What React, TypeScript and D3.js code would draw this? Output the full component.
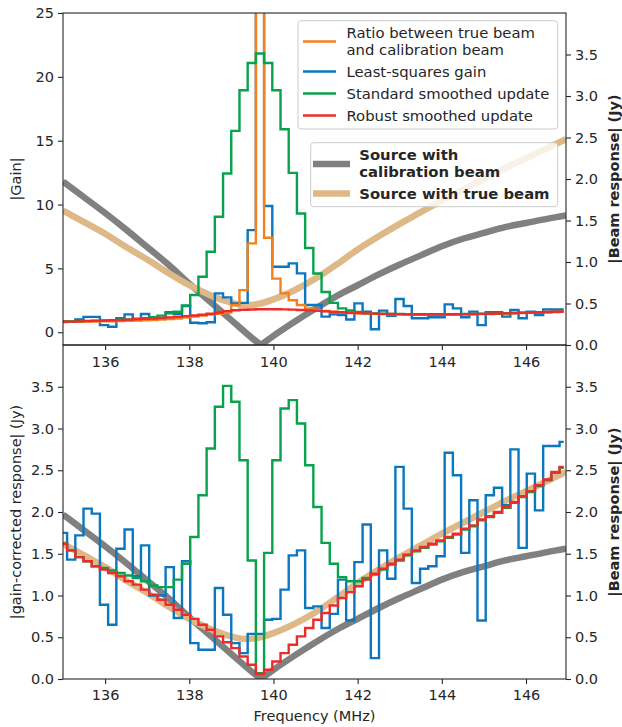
import React, { Component } from 'react';
import * as d3 from 'd3';

// channel centres in MHz (195 kHz channels)
const channelFreqs = d3.range(62).map(i => 135 + i * 0.195);

// top panel, |Gain|
const topRatio = [
  0.80, 0.81, 0.82, 0.83, 0.84, 0.85, 0.86, 0.87, 0.89, 0.91,
  0.93, 0.96, 0.99, 1.03, 1.08, 1.14, 1.22, 1.30, 1.38, 1.45,
  1.55, 2.13, 3.30, 6.96, 60, 7.40, 4.20, 3.05, 2.50, 2.13,
  1.87, 1.74, 1.66, 1.60, 1.54, 1.51, 1.48, 1.46, 1.44, 1.42,
  1.41, 1.40, 1.39, 1.38, 1.38, 1.38, 1.38, 1.38, 1.39, 1.40,
  1.41, 1.42, 1.43, 1.45, 1.46, 1.48, 1.50, 1.52, 1.54, 1.56,
  1.58, 1.60];

const topLsq = [
  0.82, 0.82, 1.00, 1.20, 1.20, 0.56, 0.43, 1.09, 1.40, 0.96,
  1.43, 1.09, 1.09, 1.56, 1.45, 2.05, 0.74, 0.70, 0.78, 3.04,
  2.73, 2.26, 2.30, 8.00, 60, 9.88, 5.13, 5.13, 5.39, 4.61,
  2.13, 2.13, 1.22, 1.40, 1.35, 1.00, 2.26, 1.61, 0.23, 1.69,
  1.29, 2.60, 2.05, 1.09, 1.09, 1.17, 1.17, 2.18, 1.87, 1.17,
  1.61, 0.56, 1.56, 1.56, 1.22, 1.74, 1.09, 1.61, 1.35, 1.79,
  1.79, 1.79];

const topStandard = [
  0.84, 0.85, 0.87, 0.89, 0.91, 0.93, 0.95, 0.98, 1.01, 1.05,
  1.10, 1.17, 1.30, 1.48, 1.60, 2.10, 2.91, 4.34, 6.30, 9.04,
  12.43, 15.77, 18.95, 21.09, 21.83, 21.09, 18.95, 15.90, 12.48, 9.30,
  6.60, 4.60, 3.15, 2.30, 1.87, 1.70, 1.58, 1.50, 1.47, 1.45,
  1.44, 1.43, 1.42, 1.41, 1.41, 1.41, 1.41, 1.41, 1.42, 1.43,
  1.44, 1.45, 1.46, 1.48, 1.49, 1.51, 1.53, 1.55, 1.57, 1.59,
  1.61, 1.63];

const topRobust = [
  0.82, 0.83, 0.85, 0.87, 0.89, 0.91, 0.93, 0.96, 0.99, 1.02,
  1.05, 1.08, 1.12, 1.16, 1.21, 1.26, 1.31, 1.37, 1.45, 1.55,
  1.65, 1.72, 1.76, 1.78, 1.80, 1.80, 1.80, 1.79, 1.77, 1.74,
  1.71, 1.67, 1.63, 1.59, 1.56, 1.53, 1.50, 1.48, 1.46, 1.44,
  1.43, 1.42, 1.41, 1.40, 1.40, 1.40, 1.40, 1.40, 1.41, 1.42,
  1.43, 1.44, 1.45, 1.47, 1.48, 1.50, 1.52, 1.54, 1.56, 1.58,
  1.60, 1.62];

// bottom panel, |gain-corrected response| (Jy)
const bottomLsq = [
  1.75, 1.43, 1.72, 2.04, 1.98, 0.89, 0.65, 1.56, 1.79, 1.23,
  1.60, 1.00, 1.00, 1.34, 0.73, 1.41, 0.43, 0.35, 0.35, 1.09,
  0.77, 0.43, 0.31, 0.54, 0.54, 0.71, 0.72, 1.07, 1.48, 1.54,
  0.85, 0.87, 0.61, 0.78, 1.19, 0.70, 1.40, 1.85, 0.25, 1.54,
  1.20, 2.54, 2.04, 1.15, 1.32, 1.35, 1.47, 2.71, 2.44, 1.51,
  2.14, 0.70, 2.20, 2.29, 2.08, 2.75, 1.57, 2.46, 2.02, 2.79,
  2.79, 2.84];

const bottomStandard = [
  1.62, 1.54, 1.46, 1.41, 1.35, 1.33, 1.30, 1.27, 1.24, 1.21,
  1.17, 1.12, 1.10, 1.10, 1.19, 1.38, 1.70, 2.20, 2.76, 3.26,
  3.51, 3.32, 2.62, 1.42, 0.07, 1.51, 2.62, 3.24, 3.34, 3.06,
  2.56, 2.06, 1.63, 1.38, 1.22, 1.17, 1.17, 1.21, 1.25, 1.31,
  1.37, 1.42, 1.48, 1.53, 1.57, 1.61, 1.65, 1.69, 1.73, 1.79,
  1.83, 1.90, 1.94, 1.99, 2.05, 2.11, 2.18, 2.24, 2.31, 2.38,
  2.47, 2.53];

const bottomRobust = [
  1.62, 1.54, 1.46, 1.41, 1.35, 1.31, 1.27, 1.23, 1.17, 1.13,
  1.07, 1.01, 0.95, 0.89, 0.83, 0.77, 0.72, 0.65, 0.59, 0.51,
  0.44, 0.37, 0.27, 0.17, 0.06, 0.11, 0.21, 0.31, 0.41, 0.51,
  0.61, 0.71, 0.79, 0.88, 0.97, 1.04, 1.11, 1.19, 1.26, 1.32,
  1.38, 1.43, 1.49, 1.54, 1.58, 1.62, 1.66, 1.70, 1.74, 1.80,
  1.84, 1.91, 1.95, 2.00, 2.06, 2.12, 2.19, 2.25, 2.32, 2.39,
  2.48, 2.54];

// beam responses (Jy), both panels
const calBeamFreqs = [135, 135.5, 136, 136.5, 137, 137.5, 138, 138.5, 139, 139.5, 139.7, 140, 140.5,
  141, 141.5, 142, 142.5, 143, 143.5, 144, 144.5, 145, 145.5, 146, 146.5, 146.95];
const calBeam = [1.97, 1.78, 1.59, 1.39, 1.18, 0.97, 0.74, 0.52, 0.30, 0.08, 0.0, 0.11, 0.28,
  0.44, 0.59, 0.72, 0.85, 0.97, 1.08, 1.19, 1.28, 1.35, 1.42, 1.47, 1.52, 1.56];

const trueBeamFreqs = [135, 135.5, 136, 136.5, 137, 137.5, 138, 138.5, 139, 139.3, 139.6, 140, 140.5,
  141, 141.5, 142, 142.5, 143, 143.5, 144, 144.5, 145, 145.5, 146, 146.5, 146.95];
const trueBeam = [1.62, 1.48, 1.34, 1.18, 1.03, 0.87, 0.72, 0.60, 0.51, 0.48, 0.49, 0.55, 0.66,
  0.80, 0.97, 1.15, 1.31, 1.46, 1.60, 1.74, 1.87, 2.00, 2.13, 2.25, 2.37, 2.48];

const freqTicks = [136, 138, 140, 142, 144, 146];
const gainTicks = [0, 5, 10, 15, 20, 25];
const jyTicks = [0, 0.5, 1.0, 1.5, 2.0, 2.5, 3.0, 3.5];

const colors = {
  ratio: '#f4811f',
  lsq: '#0a77be',
  standard: '#07a24b',
  robust: '#ee2b2b',
  cal: '#808080',
  tru: '#deb887'
};

const FONT = 'DejaVu Sans';

class BeamGainChart extends Component {
  ref = React.createRef<SVGSVGElement>();

  componentDidMount() {
    this.drawChart();
  }

  componentDidUpdate() {
    this.drawChart();
  }

  drawChart = () => {
    const totalWidth = 622;
    const totalHeight = 727;
    const left = 63, right = 566;
    const topPanel = { top: 13, bottom: 345 };
    const botPanel = { top: 345, bottom: 679 };

    const svg = d3.select(this.ref.current)
      .attr('width', totalWidth)
      .attr('height', totalHeight);
    svg.selectAll('*').remove();

    const xScale = d3.scaleLinear().domain([135, 146.95]).range([left, right]);
    const yGain = d3.scaleLinear().domain([-1, 25]).range([topPanel.bottom, topPanel.top]);
    const yBeamTop = d3.scaleLinear().domain([0, 4]).range([topPanel.bottom, topPanel.top]);
    const yResp = d3.scaleLinear().domain([0, 4]).range([botPanel.bottom, botPanel.top]);
    const yBeamBot = d3.scaleLinear().domain([0, 4]).range([botPanel.bottom, botPanel.top]);

    const defs = svg.append('defs');
    defs.append('clipPath').attr('id', 'clip-top')
      .append('rect')
      .attr('x', left).attr('y', topPanel.top)
      .attr('width', right - left).attr('height', topPanel.bottom - topPanel.top);
    defs.append('clipPath').attr('id', 'clip-bot')
      .append('rect')
      .attr('x', left).attr('y', botPanel.top)
      .attr('width', right - left).attr('height', botPanel.bottom - botPanel.top);

    const stepLine = (yScale) => d3.line<number>()
      .x((d, i) => xScale(channelFreqs[i]))
      .y(d => yScale(d))
      .curve(d3.curveStep);

    // the calibration beam has a sharp null, so each side is smoothed on its own
    const nullIdx = calBeam.indexOf(d3.min(calBeam));
    const calPath = (yScale) => {
      const pts = calBeamFreqs.map((f, i) => [xScale(f), yScale(calBeam[i])]);
      const line = d3.line().curve(d3.curveMonotoneX);
      return line(pts.slice(0, nullIdx + 1)) + line(pts.slice(nullIdx));
    };
    const truePath = (yScale) => d3.line<number>()
      .x((d, i) => xScale(trueBeamFreqs[i]))
      .y(d => yScale(d))
      .curve(d3.curveMonotoneX)(trueBeam);

    const drawPanel = (clipId, yMain, yBeam, series) => {
      const g = svg.append('g').attr('clip-path', `url(#${clipId})`);
      g.append('path')
        .attr('d', calPath(yBeam))
        .attr('fill', 'none')
        .attr('stroke', colors.cal)
        .attr('stroke-width', 6.5)
        .attr('stroke-linejoin', 'round');
      g.append('path')
        .attr('d', truePath(yBeam))
        .attr('fill', 'none')
        .attr('stroke', colors.tru)
        .attr('stroke-width', 6.5);
      series.forEach(s => {
        g.append('path')
          .attr('d', stepLine(yMain)(s.values))
          .attr('fill', 'none')
          .attr('stroke', s.color)
          .attr('stroke-width', 2.4)
          .attr('stroke-linejoin', 'miter');
      });
    };

    drawPanel('clip-top', yGain, yBeamTop, [
      { values: topLsq, color: colors.lsq },
      { values: topRatio, color: colors.ratio },
      { values: topStandard, color: colors.standard },
      { values: topRobust, color: colors.robust }
    ]);

    drawPanel('clip-bot', yResp, yBeamBot, [
      { values: bottomLsq, color: colors.lsq },
      { values: bottomStandard, color: colors.standard },
      { values: bottomRobust, color: colors.robust }
    ]);

    // axes
    const styleAxis = (g) => {
      g.attr('font-family', FONT)
        .attr('font-size', 14.5)
        .style('color', '#262626');
      g.select('.domain').remove();
      g.selectAll('line').attr('stroke-width', 1.1);
    };

    svg.append('g')
      .attr('transform', `translate(0,${topPanel.bottom})`)
      .call(d3.axisBottom(xScale).tickValues(freqTicks).tickSize(5).tickSizeOuter(0).tickPadding(7).tickFormat(d3.format('d')))
      .call(styleAxis);
    svg.append('g')
      .attr('transform', `translate(0,${botPanel.bottom})`)
      .call(d3.axisBottom(xScale).tickValues(freqTicks).tickSize(5).tickSizeOuter(0).tickPadding(5.5).tickFormat(d3.format('d')))
      .call(styleAxis);

    svg.append('g')
      .attr('transform', `translate(${left},0)`)
      .call(d3.axisLeft(yGain).tickValues(gainTicks).tickSize(5).tickSizeOuter(0).tickPadding(4).tickFormat(d3.format('d')))
      .call(styleAxis);
    svg.append('g')
      .attr('transform', `translate(${right},0)`)
      .call(d3.axisRight(yBeamTop).tickValues(jyTicks).tickSize(5).tickSizeOuter(0).tickPadding(4).tickFormat(d3.format('.1f')))
      .call(styleAxis);
    svg.append('g')
      .attr('transform', `translate(${left},0)`)
      .call(d3.axisLeft(yResp).tickValues(jyTicks).tickSize(5).tickSizeOuter(0).tickPadding(4).tickFormat(d3.format('.1f')))
      .call(styleAxis);
    svg.append('g')
      .attr('transform', `translate(${right},0)`)
      .call(d3.axisRight(yBeamBot).tickValues(jyTicks).tickSize(5).tickSizeOuter(0).tickPadding(4).tickFormat(d3.format('.1f')))
      .call(styleAxis);

    // spines
    [topPanel, botPanel].forEach(p => {
      svg.append('rect')
        .attr('x', left).attr('y', p.top)
        .attr('width', right - left).attr('height', p.bottom - p.top)
        .attr('fill', 'none')
        .attr('stroke', '#262626')
        .attr('stroke-width', 1.1);
    });

    // axis labels
    const label = (text, x, y, rotate, bold) => {
      svg.append('text')
        .attr('transform', `translate(${x},${y})` + (rotate ? ' rotate(-90)' : ''))
        .attr('text-anchor', 'middle')
        .style('font-family', FONT)
        .style('font-size', '14.5px')
        .style('font-weight', bold ? 'bold' : 'normal')
        .style('fill', '#262626')
        .text(text);
    };
    label('|Gain|', 21, (topPanel.top + topPanel.bottom) / 2, true, false);
    label('|gain-corrected response| (Jy)', 21, (botPanel.top + botPanel.bottom) / 2, true, false);
    label('|Beam response| (Jy)', 619, (topPanel.top + topPanel.bottom) / 2, true, true);
    label('|Beam response| (Jy)', 619, (botPanel.top + botPanel.bottom) / 2, true, true);
    label('Frequency (MHz)', (left + right) / 2, 721, false, false);

    // legends
    const legendText = (text, x, yCenter, bold) => {
      svg.append('text')
        .attr('x', x)
        .attr('y', yCenter + 5.3)
        .style('font-family', FONT)
        .style('font-size', '14.8px')
        .style('font-weight', bold ? 'bold' : 'normal')
        .style('fill', '#262626')
        .text(text);
    };

    svg.append('rect')
      .attr('x', 298).attr('y', 20.7)
      .attr('width', 259.7).attr('height', 108.3)
      .attr('rx', 3)
      .style('fill', 'white').style('fill-opacity', 0.8)
      .style('stroke', '#cccccc').style('stroke-width', 1);

    const lineItems = [
      { color: colors.ratio, y: 41.5, texts: [['Ratio between true beam', 33], ['and calibration beam', 49.5]] },
      { color: colors.lsq, y: 71.5, texts: [['Least-squares gain', 71.5]] },
      { color: colors.standard, y: 93.5, texts: [['Standard smoothed update', 93.5]] },
      { color: colors.robust, y: 115.5, texts: [['Robust smoothed update', 115.5]] }
    ];
    lineItems.forEach(item => {
      svg.append('line')
        .attr('x1', 303).attr('x2', 336)
        .attr('y1', item.y).attr('y2', item.y)
        .attr('stroke', item.color).attr('stroke-width', 2.4);
      item.texts.forEach(([t, yc]) => legendText(t, 346.5, yc, false));
    });

    svg.append('rect')
      .attr('x', 310.7).attr('y', 142.7)
      .attr('width', 247).attr('height', 64)
      .attr('rx', 3)
      .style('fill', 'white').style('fill-opacity', 0.8)
      .style('stroke', '#cccccc').style('stroke-width', 1);

    const beamItems = [
      { color: colors.cal, y: 164, texts: [['Source with', 155], ['calibration beam', 171.5]] },
      { color: colors.tru, y: 193.5, texts: [['Source with true beam', 193.5]] }
    ];
    beamItems.forEach(item => {
      svg.append('line')
        .attr('x1', 313).attr('x2', 350)
        .attr('y1', item.y).attr('y2', item.y)
        .attr('stroke', item.color).attr('stroke-width', 6.5);
      item.texts.forEach(([t, yc]) => legendText(t, 359.3, yc, true));
    });
  }

  render() {
    return (
      <svg ref={this.ref} style={{ position: 'absolute', left: 0, top: 0, background: 'white' }} />
    );
  }
}

export default function App() {
  return <BeamGainChart />;
}
